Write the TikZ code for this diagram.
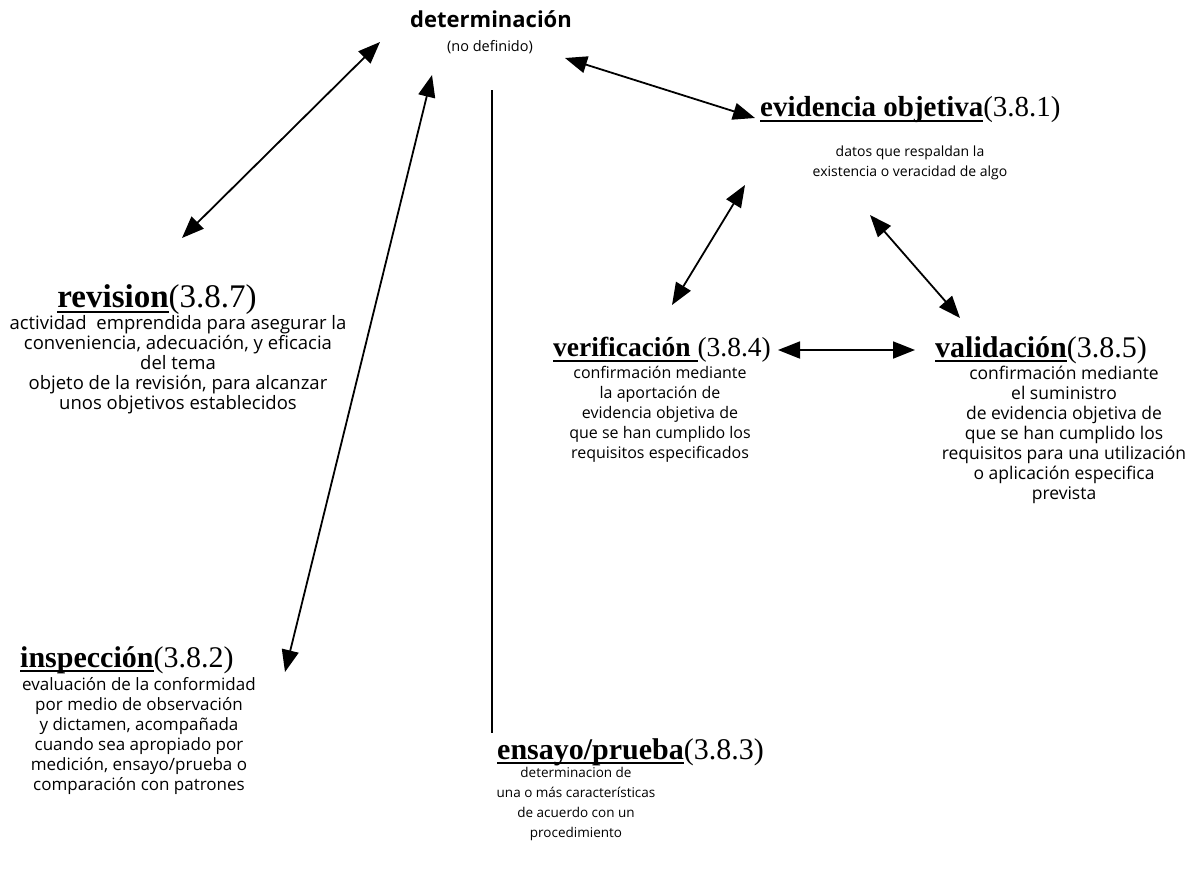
\documentclass[tikz,border=0pt]{standalone}
\usepackage{fontspec}
\setmainfont{Liberation Serif}
\newfontfamily\bodyfont{Open Sans}
\usetikzlibrary{arrows.meta}

% heavy underline for the term names
\newcommand\ulbar[1]{\setbox0\hbox{#1}\rlap{\rule[-5pt]{\wd0}{1.8pt}}\box0}

\tikzset{
  term/.style={font=\fontsize{#1}{34}\selectfont, inner sep=0pt},
  term/.default=30,
  desc/.style={font=\bodyfont\fontsize{#1}{20}\selectfont, align=center, inner sep=0pt},
  desc/.default=14,
  link/.style={line width=1.8pt,
    {Triangle[length=22pt,width=17pt]}-{Triangle[length=22pt,width=17pt]}},
}

\begin{document}
\begin{tikzpicture}[x=1pt,y=-1pt]
\useasboundingbox (0,0) rectangle (1190,873);

% root term
\node (det) at (491,19) {\bodyfont\bfseries\fontsize{22}{26}\selectfont determinación};
\node (detsub) at (490,47) {\bodyfont\fontsize{14.5}{16}\selectfont (no definido)};

% evidencia objetiva
\node[term=29, anchor=west] (evt) at (760,110) {\textbf{\ulbar{evidencia objetiva}}(3.8.1)};
\node[desc] (evd) at (910,163) {datos que respaldan la\\existencia o veracidad de algo};

% revision
\node[term=33] (revt) at (157,300) {\textbf{\ulbar{revision}}(3.8.7)};
\node[desc=18.5, anchor=north] (revd) at (178,315) {actividad\ \ emprendida para asegurar la\\conveniencia, adecuación, y eficacia\\del tema\\objeto de la revisión, para alcanzar\\unos objetivos establecidos};

% verificacion
\node[term=27.5, anchor=west] (vert) at (553,350) {\textbf{\ulbar{verificación }}(3.8.4)};
\node[desc=16, anchor=north] (verd) at (660,366) {confirmación mediante\\la aportación de\\evidencia objetiva de\\que se han cumplido los\\requisitos especificados};

% validacion
\node[term, anchor=west] (valt) at (935,350) {\textbf{\ulbar{validación}}(3.8.5)};
\node[desc=17.5, anchor=north] (vald) at (1064,366) {confirmación mediante\\el suministro\\de evidencia objetiva de\\que se han cumplido los\\requisitos para una utilización\\o aplicación especifica\\prevista};

% inspeccion
\node[term, anchor=west] (inst) at (20,660) {\textbf{\ulbar{inspección}}(3.8.2)};
\node[desc=17, anchor=north] (insd) at (139,677) {evaluación de la conformidad\\por medio de observación\\y dictamen, acompañada\\cuando sea apropiado por\\medición, ensayo/prueba o\\comparación con patrones};

% ensayo/prueba
\node[term, anchor=west] (enst) at (497,752) {\textbf{\ulbar{ensayo/prueba}}(3.8.3)};
\node[desc=13.5, anchor=north] (ensd) at (576,767) {determinacion de\\una o más características\\de acuerdo con un\\procedimiento};

% connectors
\draw[line width=1.5pt] ([shift={(2,43)}]detsub.center) -- ([shift={(-5,-19)}]enst.west);
\draw[link] ([shift={(25,-62)}]revt.center) -- ([shift={(-111,23)}]det.center);
\draw[link] ([shift={(265,12)}]inst.west) -- ([shift={(-59,56)}]det.center);
\draw[link] ([shift={(75,11)}]detsub.center) -- ([shift={(-5,8)}]evt.west);
\draw[link] ([shift={(-165,22)}]evd.center) -- ([shift={(119,-45)}]vert.west);
\draw[link] ([shift={(-40,52)}]evd.center) -- ([shift={(25,-32)}]valt.west);
\draw[link] ([shift={(225,0)}]vert.west) -- ([shift={(-20,0)}]valt.west);
\end{tikzpicture}
\end{document}
